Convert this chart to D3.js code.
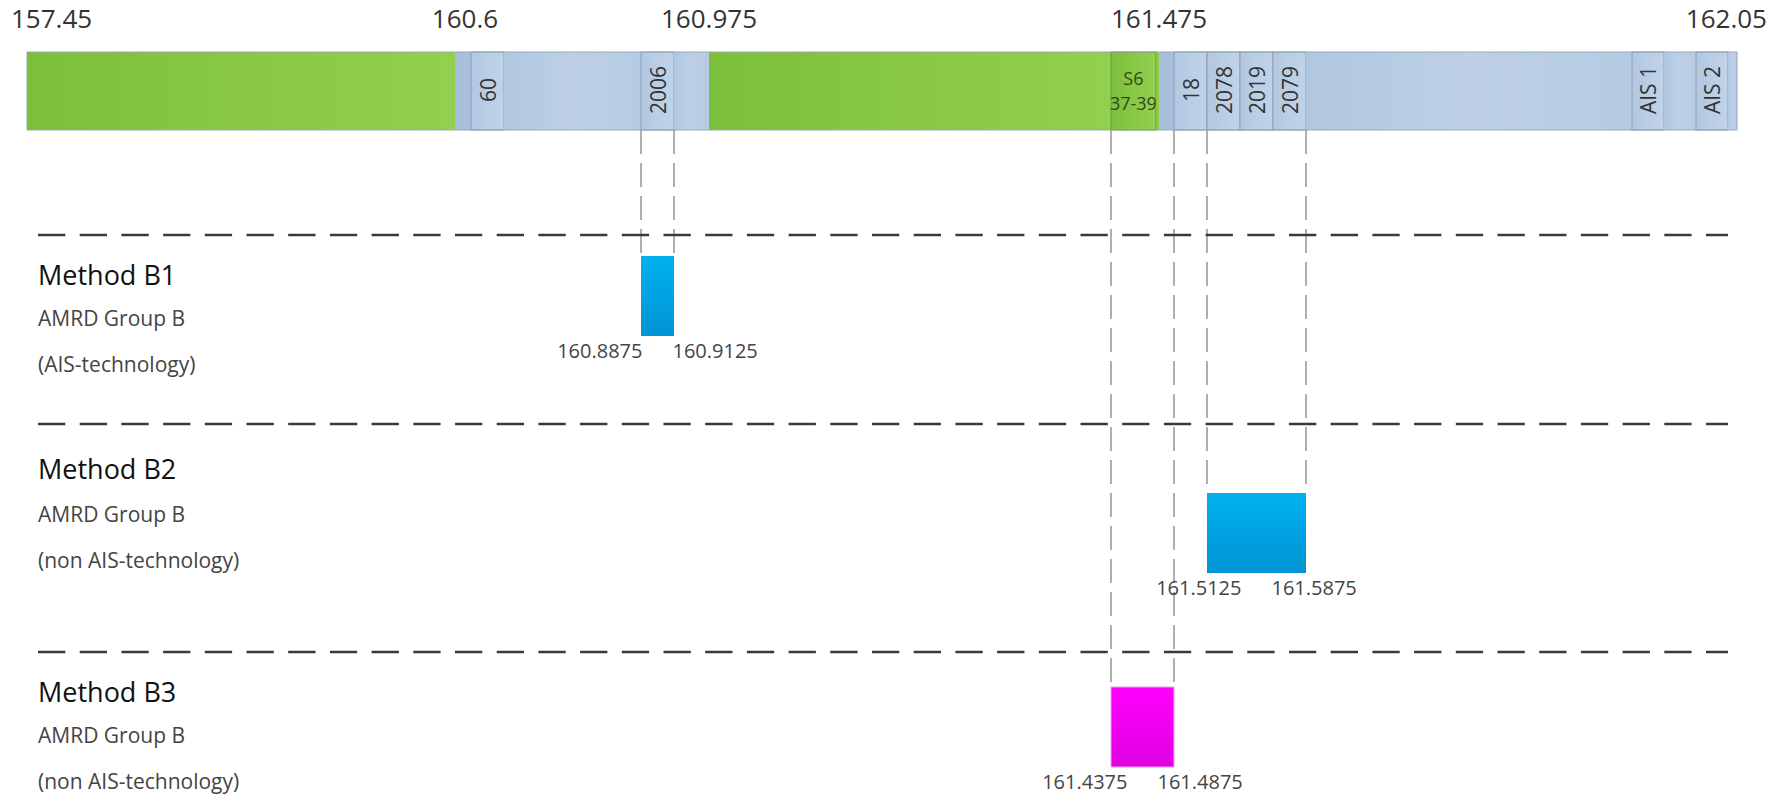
<!DOCTYPE html>
<html>
<head>
<meta charset="utf-8">
<script src="https://cdn.jsdelivr.net/npm/d3@7/dist/d3.min.js"></script>
<style>
  body { margin: 0; background: #fff; }
  text { font-family: "Open Sans", "Noto Sans", sans-serif; }
</style>
</head>
<body>
<svg id="chart" width="1785" height="795"></svg>
<script>
// frequency labels along the top (MHz)
const tickValues = [157.45, 160.6, 160.975, 161.475, 162.05];

// band segments: start frequency (MHz), kind and label
const segStart = [157.45, 160.6, 160.6125, 160.6375, 160.8875, 160.9125, 160.975, 161.4375, 161.4725,
                  161.475, 161.4875, 161.5125, 161.5375, 161.5625, 161.5875, 161.9625, 161.9875, 162.0125, 162.0375];
const segEnd = [...segStart.slice(1), 162.05];
const segKind = ['green', 'gap', 'chan', 'blue', 'chan', 'blue', 'green', 's6', 'green',
                 'gap', 'chan', 'chan', 'chan', 'chan', 'blue', 'chan', 'blue', 'chan', 'blue'];
const segLabel = ['', '', '60', '', '2006', '', '', 'S6|37-39', '',
                  '', '18', '2078', '2019', '2079', '', 'AIS 1', '', 'AIS 2', ''];

// methods
const methodNames = ['Method B1', 'Method B2', 'Method B3'];
const methodGroup = ['AMRD Group B', 'AMRD Group B', 'AMRD Group B'];
const methodTech = ['(AIS-technology)', '(non AIS-technology)', '(non AIS-technology)'];
const methodLow = [160.8875, 161.5125, 161.4375];
const methodHigh = [160.9125, 161.5875, 161.4875];

// the band is a schematic, so the frequency axis is piecewise linear
const freqStops = [157.45, 160.6, 160.6125, 160.6375, 160.8875, 160.9125, 160.975, 161.4375,
                   161.475, 161.4875, 161.5875, 161.9625, 162.0375, 162.05];
const pixelStops = [27, 455, 471, 504, 641, 674, 709, 1111, 1159, 1174, 1306, 1632, 1728, 1737];
const x = d3.scaleLinear().domain(freqStops).range(pixelStops);

const band = { top: 52, height: 78 };
const rowTop = [235, 424, 652];         // dashed separator of each method row
const boxOffset = [21, 69, 35];         // box top below the separator
const boxH = 80;
const boxColor = ['blue', 'blue', 'pink'];
const tickNudge = [-16, 10, 0, 0, 30]; // end labels are pulled in, 160.6 sits a bit right

const svg = d3.select('#chart');
const defs = svg.append('defs');

function grad(id, stops, vertical) {
    const g = defs.append('linearGradient').attr('id', id)
        .attr('x1', 0).attr('y1', 0)
        .attr('x2', vertical ? 0 : 1).attr('y2', vertical ? 1 : 0);
    stops.forEach((c, i) => g.append('stop')
        .attr('offset', i / (stops.length - 1)).attr('stop-color', c));
}
grad('g-green', ['#7bbf3a', '#88c845', '#92d050'], false);
grad('g-blue', ['#b1c7e0', '#bdd0e7', '#b6cbe3'], false);
grad('g-chan', ['#b3c8e1', '#c0d3e8'], false);
grad('g-box-blue', ['#00b2f0', '#0093d3'], true);
grad('g-box-pink', ['#ff00ff', '#df00df'], true);

const fills = { green: 'url(#g-green)', s6: 'url(#g-green)', blue: 'url(#g-blue)', chan: 'url(#g-chan)', gap: '#a8c0dc' };
const strokes = { green: 'none', s6: '#6c9a3c', blue: 'none', chan: '#8a9db3', gap: 'none' };

// top frequency labels
svg.append('g').selectAll('text')
    .data(tickValues)
    .join('text')
    .attr('x', (d, i) => x(d) + tickNudge[i])
    .attr('y', 28)
    .attr('text-anchor', (d, i) => i === 0 ? 'start' : i === tickValues.length - 1 ? 'end' : 'middle')
    .attr('font-size', 26)
    .attr('fill', '#333')
    .text(d => d);

// vertical guides from the band down to each box
const guides = [];
methodNames.forEach((m, i) => {
    [methodLow[i], methodHigh[i]].forEach(f => guides.push({ f, y2: rowTop[i] + boxOffset[i] }));
});
svg.append('g').selectAll('line')
    .data(guides)
    .join('line')
    .attr('x1', d => x(d.f)).attr('x2', d => x(d.f))
    .attr('y1', band.top + band.height).attr('y2', d => d.y2)
    .attr('stroke', '#b0b0b0')
    .attr('stroke-width', 2)
    .attr('stroke-dasharray', '24,9');

// band segments
const seg = svg.append('g').selectAll('g')
    .data(segStart.map((s, i) => ({ s, e: segEnd[i], kind: segKind[i], label: segLabel[i] })))
    .join('g');

seg.append('rect')
    .attr('x', d => x(d.s))
    .attr('y', band.top)
    .attr('width', d => x(d.e) - x(d.s))
    .attr('height', band.height)
    .attr('fill', d => fills[d.kind])
    .attr('stroke', d => strokes[d.kind])
    .attr('stroke-width', 1);

svg.append('rect')
    .attr('x', x(segStart[0])).attr('y', band.top)
    .attr('width', x(162.05) - x(segStart[0])).attr('height', band.height)
    .attr('fill', 'none').attr('stroke', '#98a8b8').attr('stroke-width', 1);

// rotated channel labels
seg.filter(d => d.label && d.kind === 'chan')
    .append('text')
    .attr('transform', d => `translate(${(x(d.s) + x(d.e)) / 2},${band.top + band.height / 2 - 1}) rotate(-90)`)
    .attr('text-anchor', 'middle')
    .attr('dominant-baseline', 'central')
    .attr('font-size', 21)
    .attr('fill', '#333')
    .text(d => d.label);

// two-line label inside S6
seg.filter(d => d.kind === 's6')
    .selectAll('text')
    .data(d => d.label.split('|').map((t, j) => ({ t, j, cx: (x(d.s) + x(d.e)) / 2 })))
    .join('text')
    .attr('x', d => d.cx)
    .attr('y', d => band.top + 33 + d.j * 25)
    .attr('text-anchor', 'middle')
    .attr('font-size', 18)
    .attr('fill', '#2f4a18')
    .text(d => d.t);

// method rows
const rows = svg.append('g').selectAll('g')
    .data(methodNames.map((name, i) => ({ name, i })))
    .join('g');

rows.append('line')
    .attr('x1', 38).attr('x2', 1728)
    .attr('y1', d => rowTop[d.i]).attr('y2', d => rowTop[d.i])
    .attr('stroke', '#3a3a3a')
    .attr('stroke-width', 2.5)
    .attr('stroke-dasharray', '27.3,14.4');

rows.append('text')
    .attr('x', 38).attr('y', d => rowTop[d.i] + 50 + (d.i === 1 ? 5 : 0))
    .attr('font-size', 27).attr('font-weight', 500).attr('fill', '#111')
    .text(d => d.name);

rows.append('text')
    .attr('x', 38).attr('y', d => rowTop[d.i] + 91 + (d.i === 1 ? 7 : 0))
    .attr('font-size', 21).attr('fill', '#444')
    .text(d => methodGroup[d.i]);

rows.append('text')
    .attr('x', 38).attr('y', d => rowTop[d.i] + 137 + (d.i === 1 ? 7 : 0))
    .attr('font-size', 21).attr('fill', '#444')
    .text(d => methodTech[d.i]);

rows.append('rect')
    .attr('x', d => x(methodLow[d.i]))
    .attr('y', d => rowTop[d.i] + boxOffset[d.i])
    .attr('width', d => x(methodHigh[d.i]) - x(methodLow[d.i]))
    .attr('height', boxH)
    .attr('fill', d => `url(#g-box-${boxColor[d.i]})`)
    .attr('stroke', d => boxColor[d.i] === 'pink' ? '#f2a0f2' : 'none')
    .attr('stroke-width', 1);

// frequency labels under each box
rows.append('text')
    .attr('x', d => (x(methodLow[d.i]) + x(methodHigh[d.i])) / 2 - 15)
    .attr('y', d => rowTop[d.i] + boxOffset[d.i] + boxH + 22)
    .attr('text-anchor', 'end')
    .attr('font-size', 20).attr('fill', '#444')
    .text(d => methodLow[d.i]);

rows.append('text')
    .attr('x', d => (x(methodLow[d.i]) + x(methodHigh[d.i])) / 2 + 15)
    .attr('y', d => rowTop[d.i] + boxOffset[d.i] + boxH + 22)
    .attr('text-anchor', 'start')
    .attr('font-size', 20).attr('fill', '#444')
    .text(d => methodHigh[d.i]);
</script>
</body>
</html>
